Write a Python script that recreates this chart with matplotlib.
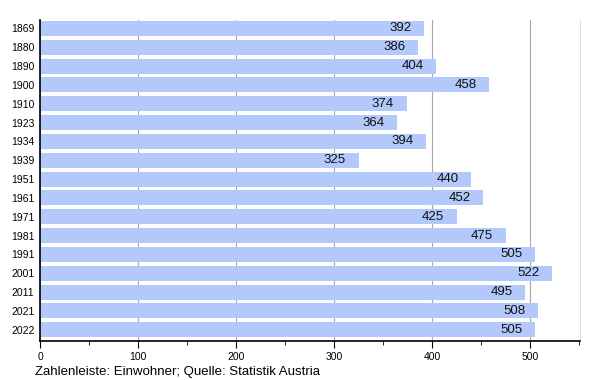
import matplotlib; matplotlib.use("Agg"); import matplotlib.pyplot as plt
from matplotlib.ticker import MultipleLocator

plt.rcParams['font.family'] = ['Liberation Sans', 'DejaVu Sans']

years = ["1869", "1880", "1890", "1900", "1910", "1923", "1934", "1939", "1951",
         "1961", "1971", "1981", "1991", "2001", "2011", "2021", "2022"]
pop = [392, 386, 404, 458, 374, 364, 394, 325, 440, 452, 425, 475, 505, 522, 495, 508, 505]
caption = "Zahlenleiste: Einwohner; Quelle: Statistik Austria"

fig = plt.figure(figsize=(6, 3.8), dpi=100)
ax = fig.add_axes([40/600, 39/380, 540/600, 321/380])
y = list(range(len(years)))
bars = ax.barh(y, pop, height=0.8, color="#b3c8fb", zorder=2)
for yi, v in zip(y, pop):
    ax.annotate(str(v), (v, yi), xytext=(-9, 0), textcoords="offset points",
                ha="right", va="center", fontsize=9.5, color="#111111", zorder=3)

ax.set_xlim(0, 551)
ax.set_ylim(16.6, -0.45)
ax.set_yticks(y); ax.set_yticklabels(years, fontsize=7.5)
ax.tick_params(axis="y", length=0, pad=4)
ax.xaxis.set_major_locator(MultipleLocator(100))
ax.xaxis.set_minor_locator(MultipleLocator(50))
ax.tick_params(axis="x", which="major", length=5, labelsize=7.5, direction="out", pad=3)
ax.tick_params(axis="x", which="minor", length=3, direction="out")
ax.grid(axis="x", which="major", color="#a8a8a8", linewidth=0.8, zorder=1)
ax.spines["top"].set_visible(False)
ax.spines["right"].set_color("#dddddd")
ax.spines["left"].set_color("black"); ax.spines["bottom"].set_color("black")
ax.spines["left"].set_linewidth(1.2); ax.spines["bottom"].set_linewidth(1.2)

fig.text(35/600, 1 - 375/380, caption, fontsize=9.5, ha="left", va="baseline")
fig.savefig("out.png", dpi=100)
